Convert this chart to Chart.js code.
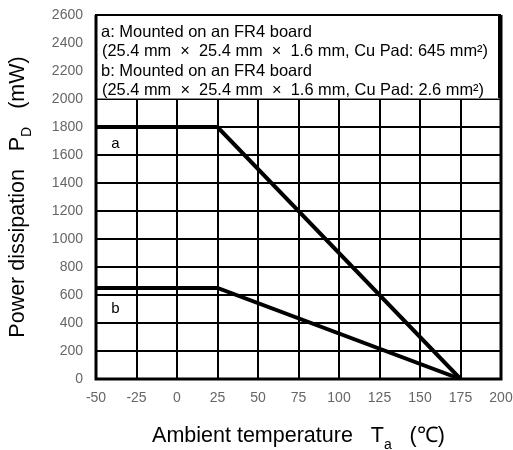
<!DOCTYPE html>
<html>
<head>
<meta charset="utf-8">
<script src="https://cdn.jsdelivr.net/npm/chart.js@4.4.1/dist/chart.umd.min.js"></script>
<style>
  html, body { margin: 0; padding: 0; background: #fff; }
  #wrap { width: 513px; height: 450px; }
</style>
</head>
<body>
<div id="wrap"><canvas id="chart" width="513" height="450"></canvas></div>
<script>
// derating data
const temps = [-50, 25, 175];
const pdA = [1800, 1800, 0];
const pdB = [650, 650, 0];

const xTicks = [-50, -25, 0, 25, 50, 75, 100, 125, 150, 175, 200];
const yMax = 2600;

const noteLines = [
  'a: Mounted on an FR4 board',
  '(25.4 mm  \u00d7  25.4 mm  \u00d7  1.6 mm, Cu Pad: 645 mm\u00b2)',
  'b: Mounted on an FR4 board',
  '(25.4 mm  \u00d7  25.4 mm  \u00d7  1.6 mm, Cu Pad: 2.6 mm\u00b2)'
];
const curveLabels = [
  { text: 'a', x: -38, y: 1680 },
  { text: 'b', x: -38, y: 500 }
];

const FONT = 'Liberation Sans, Arial, sans-serif';

// note box, curve labels, frame and the axis titles (with subscripts)
const extras = {
  id: 'extras',
  beforeDatasetsDraw(chart) {
    const ctx = chart.ctx;
    const a = chart.chartArea;
    const ys = chart.scales.y;
    const boxBottom = ys.getPixelForValue(2000);
    ctx.save();
    ctx.fillStyle = '#fff';
    ctx.fillRect(a.left, a.top, a.right - a.left - 2, boxBottom - a.top);
    ctx.strokeStyle = '#000';
    ctx.lineWidth = 2;
    ctx.beginPath();
    ctx.moveTo(a.left, boxBottom);
    ctx.lineTo(a.left, a.top);
    ctx.lineTo(a.right - 2, a.top);
    ctx.lineTo(a.right - 2, boxBottom);
    ctx.stroke();
    ctx.strokeStyle = '#888';
    ctx.lineWidth = 1;
    ctx.beginPath();
    ctx.moveTo(a.left, boxBottom - 0.5);
    ctx.lineTo(a.right, boxBottom - 0.5);
    ctx.stroke();

    ctx.fillStyle = '#000';
    ctx.font = '16.5px ' + FONT;
    ctx.textBaseline = 'middle';
    ctx.textAlign = 'left';
    const widths = [null, 386, null, 382];
    noteLines.forEach((t, i) => {
      const x = a.left + (i % 2 ? 6 : 5);
      const y = a.top + 17 + i * 19.5;
      if (widths[i]) ctx.fillText(t, x, y, widths[i]);
      else ctx.fillText(t, x, y);
    });

    ctx.font = '15px ' + FONT;
    ctx.textAlign = 'center';
    curveLabels.forEach(l => {
      ctx.fillText(l.text, chart.scales.x.getPixelForValue(l.x), ys.getPixelForValue(l.y));
    });
    ctx.restore();
  },
  afterDraw(chart) {
    const ctx = chart.ctx;
    const a = chart.chartArea;
    ctx.save();
    ctx.strokeStyle = '#000';
    ctx.lineWidth = 3;
    ctx.beginPath();
    ctx.moveTo(a.left, a.top);
    ctx.lineTo(a.left, a.bottom);
    ctx.lineTo(a.right, a.bottom);
    ctx.lineTo(a.right, a.top);
    ctx.stroke();

    const big = '21.5px ' + FONT;
    const small = '14px ' + FONT;
    // x title: Ambient temperature  T_a  (℃)
    const xParts = [
      { t: 'Ambient temperature   T', f: big, dy: 0 },
      { t: 'a', f: small, dy: 7 },
      { t: '   (\u2103)', f: big, dy: 0 }
    ];
    drawParts(ctx, xParts, (a.left + a.right) / 2, 442, 0);
    // y title: Power dissipation  P_D  (mW)
    const yParts = [
      { t: 'Power dissipation   P', f: big, dy: 0 },
      { t: 'D', f: small, dy: 7 },
      { t: '   (mW)', f: big, dy: 0 }
    ];
    drawParts(ctx, yParts, (a.top + a.bottom) / 2, 24, -Math.PI / 2);
    ctx.restore();
  }
};

function drawParts(ctx, parts, center, base, rot) {
  ctx.save();
  ctx.fillStyle = '#000';
  ctx.textBaseline = 'alphabetic';
  ctx.textAlign = 'left';
  let total = 0;
  parts.forEach(p => { ctx.font = p.f; p.w = ctx.measureText(p.t).width; total += p.w; });
  if (rot) {
    ctx.translate(base, center);
    ctx.rotate(rot);
  } else {
    ctx.translate(center, base);
  }
  let x = -total / 2;
  parts.forEach(p => {
    ctx.font = p.f;
    ctx.fillText(p.t, x, p.dy);
    x += p.w;
  });
  ctx.restore();
}

const lineSet = (label, data) => ({
  label: label,
  data: temps.map((t, i) => ({ x: t, y: data[i] })),
  borderColor: '#000',
  borderWidth: 4,
  pointRadius: 0,
  tension: 0,
  fill: false
});

new Chart(document.getElementById('chart'), {
  type: 'line',
  data: {
    datasets: [lineSet('a', pdA), lineSet('b', pdB)]
  },
  options: {
    responsive: false,
    animation: false,
    layout: { padding: 0 },
    plugins: {
      legend: { display: false },
      tooltip: { enabled: false }
    },
    scales: {
      x: {
        type: 'linear',
        min: -50,
        max: 200,
        afterBuildTicks: s => { s.ticks = xTicks.map(v => ({ value: v })); },
        afterFit: s => { s.height = 71; s.paddingLeft = 0; s.paddingRight = 12; },
        grid: { color: '#000', lineWidth: 2, drawTicks: false },
        border: { display: false },
        ticks: { color: '#666', font: { family: FONT, size: 14 }, padding: 11, maxRotation: 0 }
      },
      y: {
        min: 0,
        max: yMax,
        afterFit: s => { s.width = 96; s.paddingTop = 15; s.paddingBottom = 0; },
        grid: { color: '#000', lineWidth: 2, drawTicks: false },
        border: { display: false },
        ticks: {
          stepSize: 200,
          color: '#666',
          font: { family: FONT, size: 14 },
          padding: 13,
          callback: v => String(v)
        }
      }
    }
  },
  plugins: [extras]
});
</script>
</body>
</html>
